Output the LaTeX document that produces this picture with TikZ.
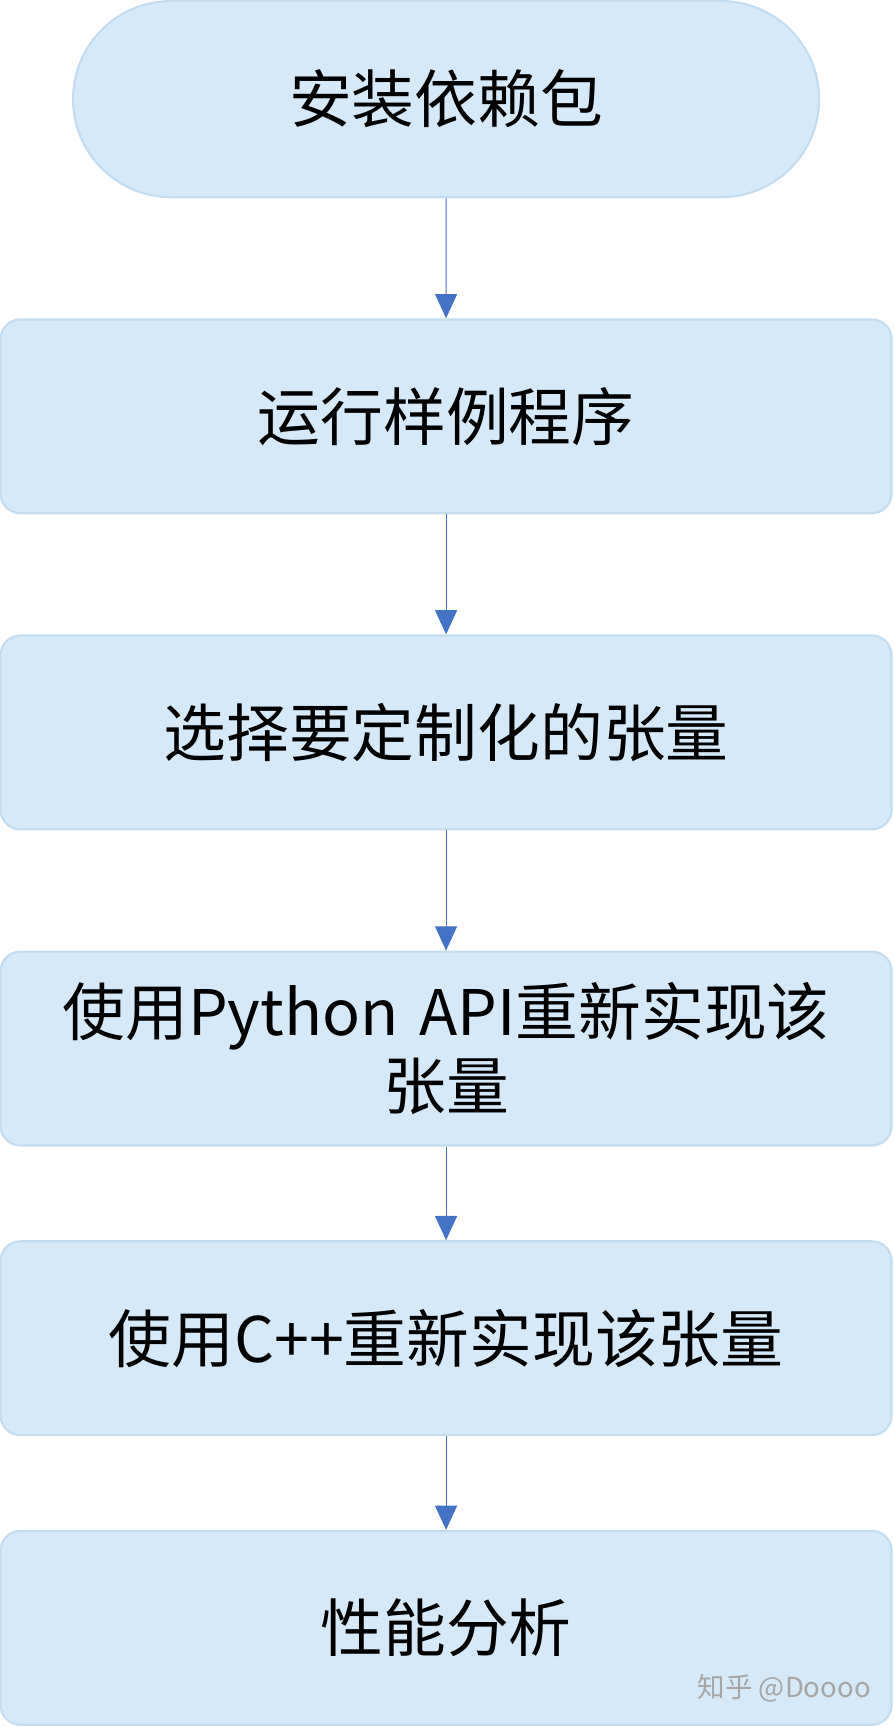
\documentclass[tikz,border=0pt]{standalone}
\usepackage{fontspec}
\newfontfamily\cjk{Noto Sans CJK SC}
\usetikzlibrary{shapes.misc,arrows.meta}
\definecolor{boxfill}{HTML}{D6E9F8}
\definecolor{boxline}{HTML}{C4DCF0}
\definecolor{arr}{HTML}{4472C4}
\begin{document}
\begin{tikzpicture}[x=1pt,y=-1pt,
  box/.style={draw=boxline,line width=2pt,fill=boxfill,rounded corners=18pt,minimum width=809pt,minimum height=176pt,align=center,font=\cjk\fontsize{57}{68}\selectfont,text width=790pt},
  term/.style={draw=boxline,line width=2pt,fill=boxfill,rounded rectangle,minimum width=684pt,minimum height=178pt,font=\cjk\fontsize{57}{68}\selectfont},
  flow/.style={draw=arr,line width=1pt,-{Triangle[length=22pt,width=20pt]}}]
\useasboundingbox (0,0) rectangle (811,1568);
\node[term] (a) at (405,90) {安装依赖包};
\node[box] (b) at (405,378) {运行样例程序};
\node[box] (c) at (405,665) {选择要定制化的张量};
\node[box] (d) at (405,952) {使用Python API重新实现该\\张量};
\node[box] (e) at (405,1215) {使用C++重新实现该张量};
\node[box] (f) at (405,1478) {性能分析};
\draw[flow] (a) -- (b);
\draw[flow] (b) -- (c);
\draw[flow] (c) -- (d);
\draw[flow] (d) -- (e);
\draw[flow] (e) -- (f);
\node[font=\cjk\fontsize{25}{28}\selectfont,text=gray!70] (w) at (712,1533) {知乎 @Doooo};
\end{tikzpicture}
\end{document}
